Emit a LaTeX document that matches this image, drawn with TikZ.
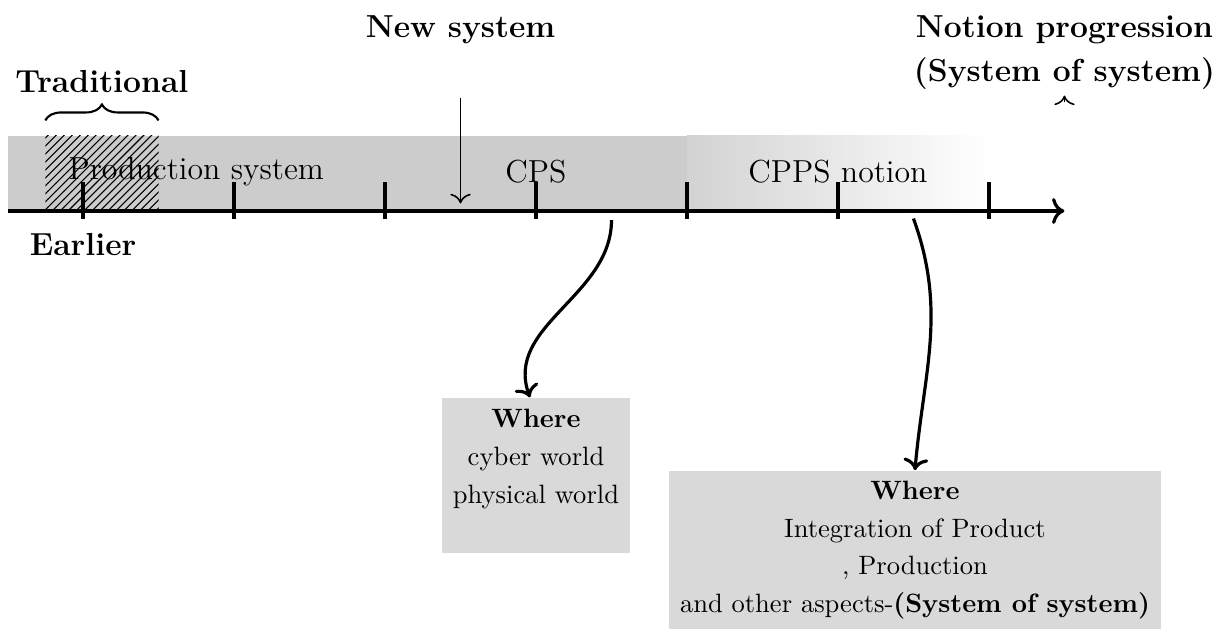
\documentclass[tikz,border=0pt]{standalone}
\usepackage{tikz}
\usetikzlibrary{arrows.meta, positioning, calc, decorations.pathreplacing, patterns}

\begin{document}
\begin{tikzpicture}[
    tickmark/.style={very thick},
    band/.style={draw=none, fill=gray!40},
    bandlabel/.style={font=\large},
    timelabel/.style={font=\large\bfseries, align=center},
    wherebox/.style={rectangle, fill=gray!30, align=center, inner sep=3pt},
    pointer/.style={semithick, -{To[scale=1.25]}},
    flow/.style={very thick, -{To[scale=1.05]}}
]
\useasboundingbox (-0.1,-5.54) rectangle (16.14,2.795);

% Bands
\fill[band] (0,0) rectangle (5,1);
\fill[band] (5,0) rectangle (9,1);
\shade[left color=gray!35, right color=white] (9,0) rectangle (13,1);

% Traditional part
\fill[pattern=north east lines] (0.5,0) rectangle (2,1);
\draw[thick, decorate, decoration={brace, amplitude=6pt}] (0.5,1.2) -- (2,1.2);
\node[timelabel] (trad) at (1.25,1.72) {Traditional};

% Band labels
\node[bandlabel] (prod) at (2.5,0.52) {Production system};
\node[bandlabel] (cps) at (7,0.52) {CPS};
\node[bandlabel] (cpps) at (11,0.52) {CPPS notion};

% Time axis
\coordinate (start) at (0,0);
\coordinate (end) at (14,0);
\draw[very thick, -{To[scale=1.1]}] (start) -- (end);
\foreach \x in {1,3,...,13}
    \draw[tickmark] (\x,-0.1) -- (\x,0.38);

\node[timelabel] (earlier) at (1,-0.45) {Earlier};

% New system
\node[timelabel] (newsys) at (6,2.4) {New system};
\coordinate (nsTop) at (6,1.5);
\coordinate (nsTip) at (6,0.1);
\draw[pointer] (nsTop) -- (nsTip);

% Notion progression
\node[timelabel] (notion) at (14,2.1) {Notion progression\\[2.5pt](System of system)};
\coordinate (npTail) at (14,1.44);
\coordinate (npHead) at (14,1.53);
\draw[pointer] (npTail) -- (npHead);

% Where boxes
\node[wherebox, minimum width=2.5cm, minimum height=2.05cm] (cpsbox) at (7,-3.5)
    {\textbf{Where}\\[2.2pt]cyber world\\[2.2pt]physical world\\[2.2pt]\mbox{}};
\node[wherebox, minimum width=6.52cm, minimum height=2.1cm] (cppsbox) at (12.02,-4.49)
    {\textbf{Where}\\[2.2pt]Integration of Product\\[2.2pt], Production\\[2.2pt]and other aspects-\textbf{(System of system)}};

% Arrows
\coordinate (cpsFrom) at (8,-0.12);
\coordinate (cppsFrom) at (12,-0.1);
\draw[flow] (cpsFrom) to[out=-90, in=110] ([xshift=-0.08cm]cpsbox.north);
\draw[flow] (cppsFrom) to[out=-70, in=85] (cppsbox.north);

\end{tikzpicture}
\end{document}
